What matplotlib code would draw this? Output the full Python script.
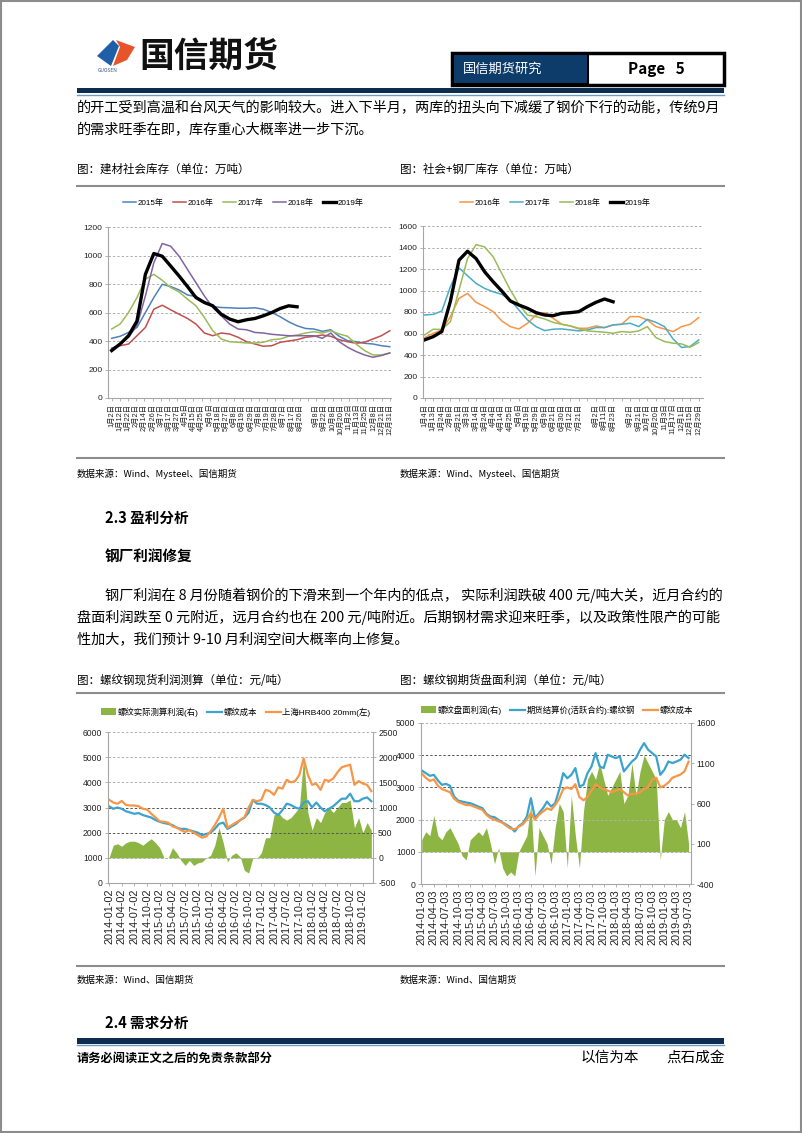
import numpy as np
import matplotlib.pyplot as plt
from matplotlib.patches import Rectangle, Polygon, Patch
from matplotlib.lines import Line2D

plt.rcParams['font.family'] = ['Noto Sans CJK SC', 'DejaVu Sans']
plt.rcParams['axes.unicode_minus'] = False
NUM = ['Liberation Sans Narrow', 'Liberation Sans', 'Noto Sans CJK SC']

W, H = 802, 1133

# ---------------- chart 1: 建材社会库存 (万吨) ----------------
c1_labels = ['1月2日', '1月12日', '1月22日', '2月2日', '2月14日', '2月26日', '3月7日', '3月17日',
             '3月27日', '4月5日', '4月15日', '4月25日', '5月6日', '5月18日', '5月27日', '6月8日',
             '6月19日', '6月29日', '7月8日', '7月19日', '7月28日', '8月7日', '8月17日', '8月26日',
             '', '9月8日', '9月22日', '10月8日', '10月20日', '11月2日', '11月13日', '11月25日',
             '12月8日', '12月21日', '12月31日']
c1_2015 = [419, 433, 460, 495, 600, 705, 798, 782, 758, 723, 712, 675, 642, 635, 633, 630, 630,
           633, 623, 600, 570, 535, 507, 488, 484, 468, 479, 433, 402, 395, 384, 379, 367, 360]
c1_2016 = [350, 367, 379, 437, 495, 623, 651, 619, 588, 558, 519, 456, 437, 456, 449, 426, 395,
           379, 363, 367, 391, 400, 409, 426, 433, 442, 433, 409, 395, 384, 391, 414, 437, 472]
c1_2017 = [484, 519, 600, 705, 833, 868, 826, 775, 744, 693, 647, 565, 472, 414, 395, 391, 386,
           386, 391, 409, 414, 433, 442, 456, 465, 456, 472, 449, 433, 379, 333, 302, 302, 316]
c1_2018 = [344, 379, 426, 507, 716, 949, 1084, 1065, 995, 902, 809, 716, 635, 577, 519, 484, 479,
           460, 456, 447, 442, 437, 437, 437, 437, 419, 456, 395, 356, 326, 302, 286, 298, 316]
c1_2019 = [333, 379, 437, 540, 868, 1014, 995, 926, 856, 782, 705, 670, 647, 588, 554, 535, 549,
           558, 577, 600, 628, 647, 640]

# ---------------- chart 2: 社会+钢厂库存 (万吨) ----------------
c2_labels = ['1月4日', '1月13日', '1月24日', '2月8日', '2月21日', '3月3日', '3月14日', '3月24日',
             '4月4日', '4月14日', '4月25日', '5月6日', '5月19日', '5月29日', '6月9日', '6月21日',
             '6月30日', '7月12日', '7月21日', '', '8月2日', '8月11日', '8月23日', '', '9月2日',
             '9月21日', '10月7日', '10月20日', '11月3日', '11月17日', '12月1日', '12月15日', '12月29日']
c2_2016 = [562, 602, 633, 757, 927, 973, 890, 850, 803, 717, 664, 642, 695, 772, 794, 741, 686,
           670, 649, 649, 670, 655, 680, 686, 757, 757, 726, 664, 642, 618, 664, 686, 748]
c2_2017 = [772, 778, 809, 1035, 1211, 1137, 1066, 1019, 988, 964, 911, 819, 726, 664, 627, 640,
           643, 633, 624, 633, 655, 655, 680, 686, 695, 664, 732, 704, 664, 550, 470, 479, 540]
c2_2018 = [587, 640, 637, 710, 1004, 1297, 1427, 1405, 1313, 1158, 1004, 871, 772, 757, 735, 704,
           686, 670, 643, 624, 618, 612, 602, 618, 612, 624, 664, 562, 525, 510, 503, 473, 516]
c2_2019 = [541, 571, 618, 900, 1282, 1365, 1297, 1174, 1081, 995, 902, 865, 834, 794, 772, 766,
           788, 794, 803, 850, 890, 921, 895]

# ---------------- chart 3: 螺纹钢现货利润测算 (月度读数) ----------------
c3_ticks = ['2014-01-02', '2014-04-02', '2014-07-02', '2014-10-02', '2015-01-02', '2015-04-02',
            '2015-07-02', '2015-10-02', '2016-01-02', '2016-04-02', '2016-07-02', '2016-10-02',
            '2017-01-02', '2017-04-02', '2017-07-02', '2017-10-02', '2018-01-02', '2018-04-02',
            '2018-07-02', '2018-10-02', '2019-01-02']
c3_price = [3310, 3200, 3150, 3260, 3100, 3080, 3080, 3050, 2950, 2920, 2750, 2600, 2450, 2430,
            2400, 2250, 2200, 2100, 2030, 2100, 2000, 1900, 1800, 1850, 2050, 2300, 2600, 2950,
            2200, 2300, 2400, 2500, 2600, 3000, 3300, 3250, 3300, 3700, 3650, 3500, 3800, 3750,
            4100, 4000, 4050, 4300, 4950, 4300, 3900, 3950, 3700, 4100, 4050, 4150, 4400, 4600,
            4650, 4700, 3900, 4050, 3950, 3900, 3650]
c3_cost = [3050, 2950, 3000, 2950, 2850, 2800, 2750, 2780, 2700, 2650, 2600, 2500, 2430, 2380,
           2350, 2300, 2200, 2150, 2150, 2100, 2050, 2000, 1900, 1950, 2000, 2150, 2350, 2400,
           2150, 2250, 2350, 2500, 2600, 2800, 3300, 3150, 3150, 3100, 3000, 2800, 2700, 2900,
           3150, 3100, 3000, 2950, 3200, 3250, 3000, 3200, 3000, 2850, 2950, 3050, 3200, 3350,
           3350, 3550, 3250, 3250, 3350, 3400, 3250]
c3_profit = [0, 250, 280, 230, 300, 330, 330, 300, 250, 320, 380, 300, 200, 0, 0, 200, 100, -50,
             -150, -50, -150, -100, -80, 0, 50, 250, 600, 300, -80, 50, 100, 20, -250, -300, 0,
             -10, 100, 400, 400, 850, 900, 800, 750, 800, 900, 1000, 2000, 900, 550, 800, 700,
             900, 1000, 900, 1000, 1100, 1100, 1150, 600, 800, 500, 700, 550]

# ---------------- chart 4: 螺纹钢期货盘面利润 (月度读数) ----------------
c4_ticks = ['2014-01-03', '2014-04-03', '2014-07-03', '2014-10-03', '2015-01-03', '2015-04-03',
            '2015-07-03', '2015-10-03', '2016-01-03', '2016-04-03', '2016-07-03', '2016-10-03',
            '2017-01-03', '2017-04-03', '2017-07-03', '2017-10-03', '2018-01-03', '2018-04-03',
            '2018-07-03', '2018-10-03', '2019-01-03', '2019-04-03', '2019-07-03']
c4_futures = [3525, 3443, 3360, 3390, 3215, 3080, 3110, 3050, 2715, 2590, 2560, 2530, 2510, 2460,
              2405, 2355, 2180, 2095, 2075, 1990, 1910, 1835, 1760, 1630, 1800, 1885, 2095, 2665,
              2045, 2200, 2355, 2560, 2405, 2510, 2925, 3443, 3285, 3390, 3600, 3030, 3080, 3443,
              3650, 4065, 3650, 3600, 4015, 3960, 3910, 3960, 3495, 3650, 3805, 3910, 4170, 4375,
              4170, 4065, 3960, 3390, 3545, 3805, 3755, 3805, 3860, 4015, 3910]
c4_cost = [3430, 3300, 3200, 3250, 3050, 2950, 2900, 2850, 2650, 2550, 2500, 2450, 2450, 2400,
           2350, 2300, 2150, 2050, 2000, 1950, 1900, 1800, 1720, 1700, 1780, 1850, 2000, 2200,
           2000, 2150, 2250, 2350, 2300, 2450, 2650, 2950, 3000, 2950, 3100, 2700, 2600, 2700,
           2900, 3100, 3000, 2950, 2900, 2850, 2900, 2950, 2850, 2750, 2800, 2800, 2850, 2950,
           3000, 3250, 3300, 3000, 3050, 3150, 3300, 3350, 3400, 3500, 3800]
c4_profit = [150, 250, 200, 450, 200, 150, 250, 300, 200, 100, -50, -100, 150, 200, 250, 200, 300,
             100, -150, 50, -200, -300, -250, -300, 0, 100, 200, 600, -300, 300, 200, 100, -150,
             300, 600, 500, -200, 700, 200, -200, 500, 900, 1000, 900, 1100, 900, 700, 800, 900,
             1000, 600, 700, 1100, 700, 1000, 1200, 1100, 1000, 900, -100, 400, 500, 400, 400,
             300, 500, 100]

fig = plt.figure(figsize=(8.02, 11.33), dpi=100)


def box(x0, y0, x1, y1):
    return [x0 / W, 1 - y1 / H, (x1 - x0) / W, (y1 - y0) / H]


def ptxt(x, y, s, **kw):
    kw.setdefault('va', 'center')
    fig.text(x / W, 1 - y / H, s, **kw)


def hline(x0, x1, y, **kw):
    fig.add_artist(Line2D([x0 / W, x1 / W], [1 - y / H, 1 - y / H], **kw))


def rect(x0, y0, x1, y1, **kw):
    fig.add_artist(Rectangle((x0 / W, 1 - y1 / H), (x1 - x0) / W, (y1 - y0) / H,
                             transform=fig.transFigure, **kw))


def poly(pts, **kw):
    fig.add_artist(Polygon([(x / W, 1 - y / H) for x, y in pts], closed=True,
                           transform=fig.transFigure, **kw))


# page frame
rect(1, 1, 801, 1132, fill=False, edgecolor='#8c8c8c', lw=1.5)

# header: logo
poly([(97, 56), (113, 40), (119, 46), (111, 66)], facecolor='#1f5fa8', edgecolor='none')
poly([(116, 40), (135, 47), (127, 60), (113, 66), (120, 47)], facecolor='#e8542a', edgecolor='none')
ptxt(108, 71, 'GUOSEN', fontsize=3.5, color='#3a5a8a', ha='center')
ptxt(139, 56, '国信期货', fontsize=25, fontweight='heavy', color='#111111')

# header: box
rect(452, 53, 724, 85, facecolor='white', edgecolor='black', lw=2.5)
rect(453, 54, 588, 84, facecolor='#0e3c6a', edgecolor='black', lw=1.5)
ptxt(463, 69, '国信期货研究', fontsize=9.5, color='white')
ptxt(656, 69, 'Page   5', fontsize=11, fontweight='bold', ha='center', color='black')
rect(77, 88, 724, 93, facecolor='#0d2c4f', edgecolor='none')
hline(77, 724, 94.5, color='#6b9cc8', lw=1.0)

# body text
ptxt(77, 108, '的开工受到高温和台风天气的影响较大。进入下半月，两库的扭头向下减缓了钢价下行的动能，传统9月',
     fontsize=10.2)
ptxt(77, 130, '的需求旺季在即，库存重心大概率进一步下沉。', fontsize=10.2)

ptxt(77, 169, '图：建材社会库存（单位：万吨）', fontsize=8.3)
ptxt(400, 169, '图：社会+钢厂库存（单位：万吨）', fontsize=8.3)
hline(77, 724, 186, color='#8c8c8c', lw=1.5)
hline(77, 724, 458, color='#8c8c8c', lw=1.5)
ptxt(77, 474, '数据来源：Wind、Mysteel、国信期货', fontsize=6.8)
ptxt(400, 474, '数据来源：Wind、Mysteel、国信期货', fontsize=6.8)

ptxt(105, 518, '2.3 盈利分析', fontsize=10.5, fontweight='bold')
ptxt(105, 556, '钢厂利润修复', fontsize=10.5, fontweight='bold')
ptxt(105, 595, '钢厂利润在 8 月份随着钢价的下滑来到一个年内的低点， 实际利润跌破 400 元/吨大关，近月合约的',
     fontsize=10.2)
ptxt(77, 617, '盘面利润跌至 0 元附近，远月合约也在 200 元/吨附近。后期钢材需求迎来旺季，以及政策性限产的可能',
     fontsize=10.2)
ptxt(77, 640, '性加大，我们预计 9-10 月利润空间大概率向上修复。', fontsize=10.2)

ptxt(77, 680, '图：螺纹钢现货利润测算（单位：元/吨）', fontsize=8.3)
ptxt(400, 680, '图：螺纹钢期货盘面利润（单位：元/吨）', fontsize=8.3)
hline(77, 724, 693, color='#8c8c8c', lw=1.5)
hline(77, 724, 966, color='#8c8c8c', lw=1.5)
ptxt(77, 980, '数据来源：Wind、国信期货', fontsize=6.8)
ptxt(400, 980, '数据来源：Wind、国信期货', fontsize=6.8)

ptxt(105, 1023, '2.4 需求分析', fontsize=10.5, fontweight='bold')
rect(77, 1038, 724, 1044, facecolor='#0d2c4f', edgecolor='none')
hline(77, 724, 1045, color='#6b9cc8', lw=1.0)
ptxt(77, 1058, '请务必阅读正文之后的免责条款部分', fontsize=8.8, fontweight='bold')
ptxt(581, 1058, '以信为本', fontsize=10.5)
ptxt(666, 1058, '点石成金', fontsize=10.5)


def style_axes(ax, size=6):
    for s in ['top', 'right']:
        ax.spines[s].set_visible(False)
    for s in ['left', 'bottom']:
        ax.spines[s].set_color('#a6a6a6')
        ax.spines[s].set_linewidth(0.8)
    ax.tick_params(axis='both', colors='#a6a6a6', length=2.5, width=0.6, labelcolor='#222222',
                   pad=1.5)
    for lab in ax.get_yticklabels():
        lab.set_family(NUM)
        lab.set_fontsize(size)


def grid(ax, levels, dark=()):
    for v in levels:
        ax.axhline(v, color='#555555' if v in dark else '#b0b0b0', lw=0.7, ls=(0, (2.5, 2)),
                   zorder=0)


# ---------- chart 1 ----------
ax1 = fig.add_axes(box(108, 227, 391, 398))
n = np.arange(len(c1_2015)) * 34 / 33
ax1.plot(n, c1_2015, color='#4f81bd', lw=1.1, label='2015年')
ax1.plot(n, c1_2016, color='#c0504d', lw=1.1, label='2016年')
ax1.plot(n, c1_2017, color='#9bbb59', lw=1.1, label='2017年')
ax1.plot(n, c1_2018, color='#8064a2', lw=1.1, label='2018年')
ax1.plot(np.arange(len(c1_2019)) * 34 / 33, c1_2019, color='black', lw=2.4, label='2019年')
ax1.set_ylim(0, 1200)
ax1.set_yticks(range(0, 1201, 200))
ax1.set_xlim(-0.45, 34.15)
ax1.set_xticks(range(len(c1_labels)))
ax1.set_xticklabels(c1_labels, rotation=90, fontsize=5.3, family=NUM)
grid(ax1, range(200, 1201, 200))
style_axes(ax1)
ax1.legend(loc='center', bbox_to_anchor=(243 / W, 1 - 203 / H), bbox_transform=fig.transFigure,
           ncol=5, frameon=False, handlelength=1.6, columnspacing=1.2,
           handletextpad=0.2, prop={'family': NUM, 'size': 5.8})

# ---------- chart 2 ----------
ax2 = fig.add_axes(box(423, 226, 703, 398))
ax2.plot(np.arange(len(c2_2016)), c2_2016, color='#f79646', lw=1.1, label='2016年')
ax2.plot(np.arange(len(c2_2017)), c2_2017, color='#4bacc6', lw=1.1, label='2017年')
ax2.plot(np.arange(len(c2_2018)), c2_2018, color='#9bbb59', lw=1.1, label='2018年')
ax2.plot(np.arange(len(c2_2019)), c2_2019, color='black', lw=2.4, label='2019年')
ax2.set_ylim(0, 1600)
ax2.set_yticks(range(0, 1601, 200))
ax2.set_xlim(-0.2, 32.5)
ax2.set_xticks(range(len(c2_labels)))
ax2.set_xticklabels(c2_labels, rotation=90, fontsize=5.3, family=NUM)
grid(ax2, range(200, 1601, 200))
style_axes(ax2)
ax2.legend(loc='center', bbox_to_anchor=(555 / W, 1 - 203 / H), bbox_transform=fig.transFigure,
           ncol=4, frameon=False, handlelength=1.6, columnspacing=1.2, handletextpad=0.2,
           prop={'family': NUM, 'size': 5.8})


def profit_chart(pos, xlim, ticks, line_a, line_b, profit, ylim_l, yt_l, ylim_r, yt_r,
                 dark, labels, legend_xy):
    ax = fig.add_axes(box(*pos))
    axr = ax.twinx()
    ax.set_zorder(axr.get_zorder() + 1)
    ax.patch.set_visible(False)
    xm = np.arange(len(profit)) / 3
    axr.fill_between(xm, 0, profit, color='#8cb543', lw=0, label=labels[0])
    axr.set_ylim(*ylim_r)
    axr.set_yticks(yt_r)
    xa = np.arange(len(line_a[0])) / 3
    xb = np.arange(len(line_b[0])) / 3
    ax.plot(xa, line_a[0], color=line_a[1], lw=1.6, label=labels[1])
    ax.plot(xb, line_b[0], color=line_b[1], lw=1.6, label=labels[2])
    ax.set_ylim(*ylim_l)
    ax.set_yticks(yt_l)
    ax.set_xlim(*xlim)
    ax.set_xticks(range(len(ticks)))
    ax.set_xticklabels(ticks, rotation=90, fontsize=7.8, family=NUM)
    grid(ax, yt_l[1:], dark)
    style_axes(ax, 6.2)
    for s in ['top', 'left', 'bottom']:
        axr.spines[s].set_visible(False)
    axr.spines['right'].set_color('#a6a6a6')
    axr.spines['right'].set_linewidth(0.8)
    axr.tick_params(axis='y', colors='#a6a6a6', length=2.5, width=0.6, labelcolor='#222222', pad=1.2)
    for lab in axr.get_yticklabels():
        lab.set_family(NUM)
        lab.set_fontsize(6.2)
    handles = [Patch(facecolor='#8cb543', label=labels[0]),
               Line2D([], [], color=line_a[1], lw=1.6, label=labels[1]),
               Line2D([], [], color=line_b[1], lw=1.6, label=labels[2])]
    ax.legend(handles=handles, loc='center', bbox_to_anchor=(legend_xy[0] / W, 1 - legend_xy[1] / H),
              bbox_transform=fig.transFigure, ncol=3, frameon=False, handlelength=1.8,
              handleheight=0.9, columnspacing=1.0, handletextpad=0.2,
              prop={'family': NUM, 'size': 6})
    return ax, axr


profit_chart((108, 732, 373, 883), (-0.08, 20.8), c3_ticks,
             (c3_cost, '#3ba3cc'), (c3_price, '#f79646'), c3_profit,
             (0, 6000), list(range(0, 6001, 1000)), (-500, 2500), list(range(-500, 2501, 500)),
             (2000, 3000), ['螺纹实际测算利润(右)', '螺纹成本', '上海HRB400 20mm(左)'], (236, 712))

profit_chart((421, 723, 691, 884), (-0.06, 22.2), c4_ticks,
             (c4_futures, '#3ba3cc'), (c4_cost, '#f79646'), c4_profit,
             (0, 5000), list(range(0, 5001, 1000)), (-400, 1600), [-400, 100, 600, 1100, 1600],
             (3000, 4000), ['螺纹盘面利润(右)', '期货结算价(活跃合约):螺纹钢', '螺纹成本'], (557, 710))

fig.savefig('out.png', dpi=100)
